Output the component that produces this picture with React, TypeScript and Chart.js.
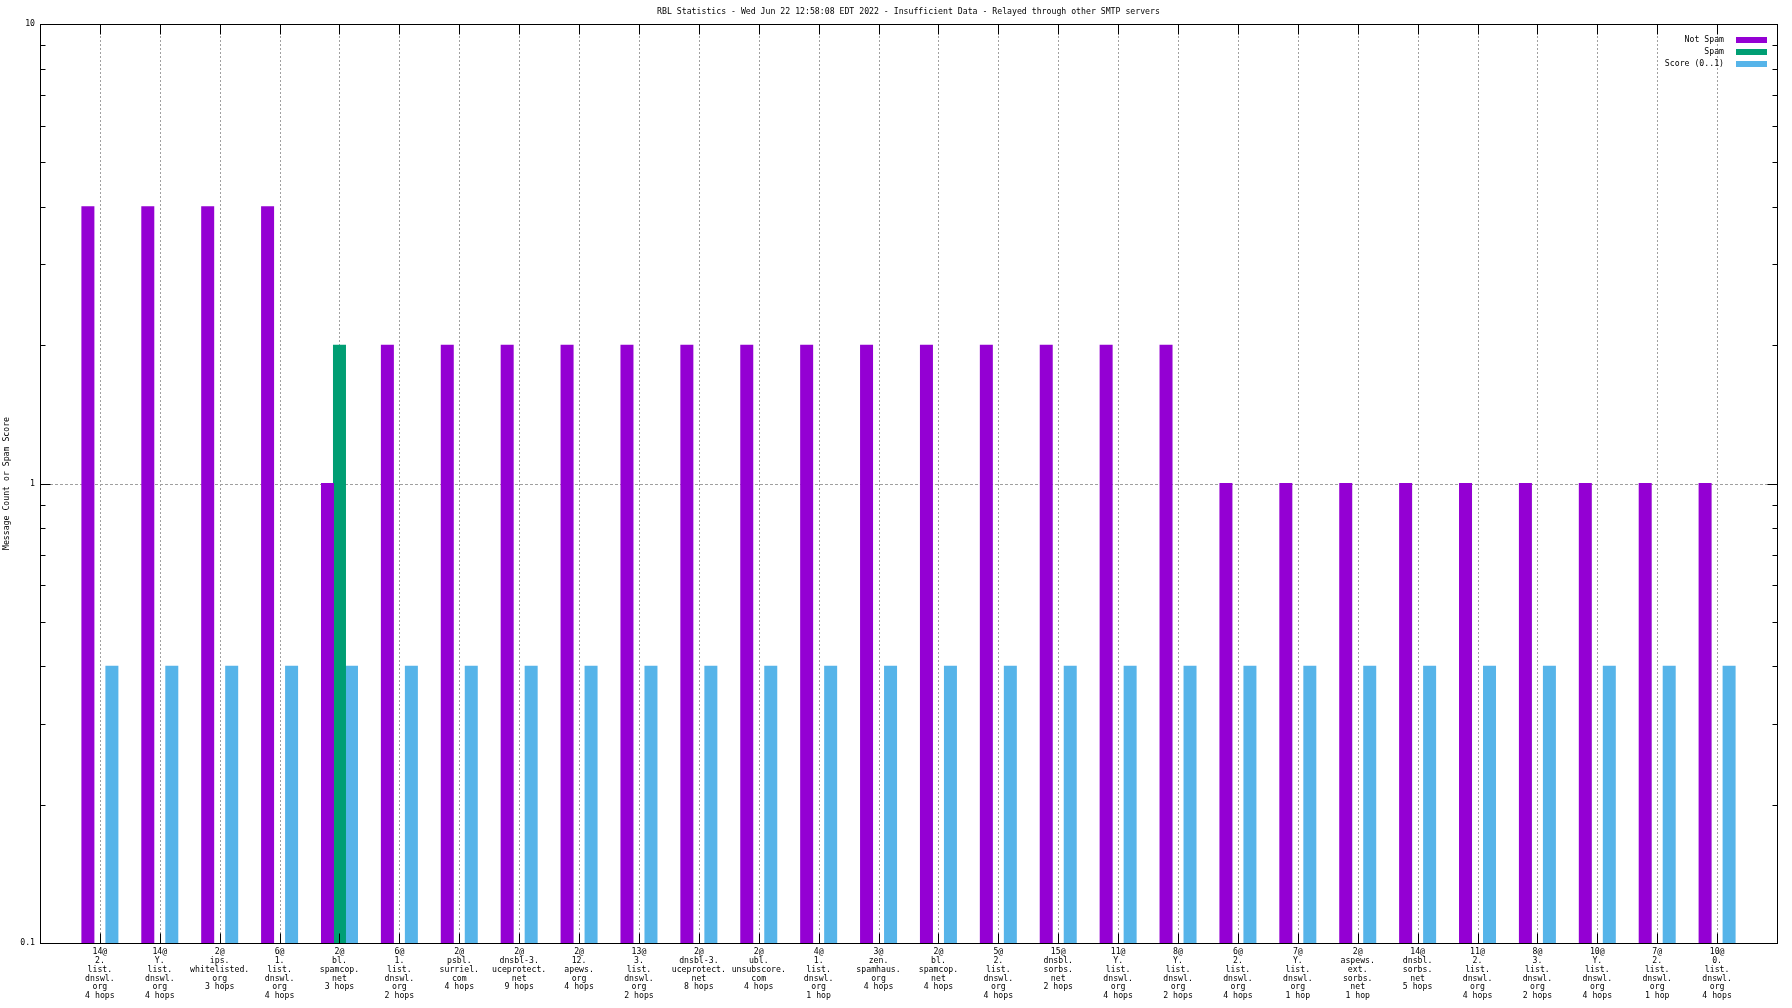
import React, { useEffect, useRef } from 'react';
import { Chart, registerables } from 'chart.js';

Chart.register(...registerables);

const TITLE = 'RBL Statistics - Wed Jun 22 12:58:08 EDT 2022 - Insufficient Data - Relayed through other SMTP servers';
const Y_TITLE = 'Message Count or Spam Score';

const CATEGORIES: string[][] = [
  ['14@', '2.', 'list.', 'dnswl.', 'org', '4 hops'],
  ['14@', 'Y.', 'list.', 'dnswl.', 'org', '4 hops'],
  ['2@', 'ips.', 'whitelisted.', 'org', '3 hops'],
  ['6@', '1.', 'list.', 'dnswl.', 'org', '4 hops'],
  ['2@', 'bl.', 'spamcop.', 'net', '3 hops'],
  ['6@', '1.', 'list.', 'dnswl.', 'org', '2 hops'],
  ['2@', 'psbl.', 'surriel.', 'com', '4 hops'],
  ['2@', 'dnsbl-3.', 'uceprotect.', 'net', '9 hops'],
  ['2@', '12.', 'apews.', 'org', '4 hops'],
  ['13@', '3.', 'list.', 'dnswl.', 'org', '2 hops'],
  ['2@', 'dnsbl-3.', 'uceprotect.', 'net', '8 hops'],
  ['2@', 'ubl.', 'unsubscore.', 'com', '4 hops'],
  ['4@', '1.', 'list.', 'dnswl.', 'org', '1 hop'],
  ['3@', 'zen.', 'spamhaus.', 'org', '4 hops'],
  ['2@', 'bl.', 'spamcop.', 'net', '4 hops'],
  ['5@', '2.', 'list.', 'dnswl.', 'org', '4 hops'],
  ['15@', 'dnsbl.', 'sorbs.', 'net', '2 hops'],
  ['11@', 'Y.', 'list.', 'dnswl.', 'org', '4 hops'],
  ['8@', 'Y.', 'list.', 'dnswl.', 'org', '2 hops'],
  ['6@', '2.', 'list.', 'dnswl.', 'org', '4 hops'],
  ['7@', 'Y.', 'list.', 'dnswl.', 'org', '1 hop'],
  ['2@', 'aspews.', 'ext.', 'sorbs.', 'net', '1 hop'],
  ['14@', 'dnsbl.', 'sorbs.', 'net', '5 hops'],
  ['11@', '2.', 'list.', 'dnswl.', 'org', '4 hops'],
  ['8@', '3.', 'list.', 'dnswl.', 'org', '2 hops'],
  ['10@', 'Y.', 'list.', 'dnswl.', 'org', '4 hops'],
  ['7@', '2.', 'list.', 'dnswl.', 'org', '1 hop'],
  ['10@', '0.', 'list.', 'dnswl.', 'org', '4 hops'],
];

const NOT_SPAM: (number | null)[] = [4, 4, 4, 4, 1, 2, 2, 2, 2, 2, 2, 2, 2, 2, 2, 2, 2, 2, 2, 1, 1, 1, 1, 1, 1, 1, 1, 1];
const SPAM: (number | null)[] = [null, null, null, null, 2, null, null, null, null, null, null, null, null, null, null, null, null, null, null, null, null, null, null, null, null, null, null, null];
const SCORE: (number | null)[] = [0.4, 0.4, 0.4, 0.4, 0.4, 0.4, 0.4, 0.4, 0.4, 0.4, 0.4, 0.4, 0.4, 0.4, 0.4, 0.4, 0.4, 0.4, 0.4, 0.4, 0.4, 0.4, 0.4, 0.4, 0.4, 0.4, 0.4, 0.4];

const SERIES_NAMES = ['Not Spam', 'Spam', 'Score (0..1)'];
const SERIES_COLORS = ['#9400d3', '#009e73', '#56b4e9'];

const Y_MAJOR = [0.1, 1, 10];
const Y_MINOR = [0.2, 0.3, 0.4, 0.5, 0.6, 0.7, 0.8, 0.9, 2, 3, 4, 5, 6, 7, 8, 9];
const Y_GRID = [1];

const FAMILY = '"DejaVu Sans Mono", "Liberation Mono", monospace';
const FSIZE = 8.2;
const CSS_FONT = `${FSIZE}px ${FAMILY}`;

const frame = {
  id: 'gnuframe',
  beforeDatasetsDraw(chart: any) {
    const { ctx, chartArea: a, scales } = chart;
    const x = scales.x;
    const y = scales.y;
    ctx.save();
    ctx.strokeStyle = '#a0a0a0';
    ctx.lineWidth = 1;
    ctx.setLineDash([2, 2]);
    for (let i = 1; i <= CATEGORIES.length; i++) {
      const px = Math.round(x.getPixelForValue(i)) + 0.5;
      ctx.beginPath();
      ctx.moveTo(px, a.top);
      ctx.lineTo(px, a.bottom);
      ctx.stroke();
    }
    ctx.setLineDash([3, 2]);
    for (const v of Y_GRID) {
      const py = Math.round(y.getPixelForValue(v)) + 0.5;
      ctx.beginPath();
      ctx.moveTo(a.left, py);
      ctx.lineTo(a.right, py);
      ctx.stroke();
    }
    ctx.restore();
  },
  afterDatasetsDraw(chart: any) {
    const { ctx, chartArea: a, scales } = chart;
    const x = scales.x;
    const y = scales.y;
    const L = Math.round(a.left) + 0.5;
    const R = Math.round(a.right) + 0.5;
    const T = Math.round(a.top) + 0.5;
    const B = Math.round(a.bottom) + 0.5;
    ctx.save();
    ctx.strokeStyle = '#000';
    ctx.lineWidth = 1;
    ctx.setLineDash([]);
    ctx.strokeRect(L, T, R - L, B - T);
    ctx.beginPath();
    for (let i = 1; i <= CATEGORIES.length; i++) {
      const px = Math.round(x.getPixelForValue(i)) + 0.5;
      ctx.moveTo(px, B);
      ctx.lineTo(px, B - 10);
      ctx.moveTo(px, T);
      ctx.lineTo(px, T + 10);
    }
    for (const v of Y_MAJOR) {
      const py = Math.round(y.getPixelForValue(v)) + 0.5;
      ctx.moveTo(L, py);
      ctx.lineTo(L + 10, py);
      ctx.moveTo(R, py);
      ctx.lineTo(R - 10, py);
    }
    for (const v of Y_MINOR) {
      const py = Math.round(y.getPixelForValue(v)) + 0.5;
      ctx.moveTo(L, py);
      ctx.lineTo(L + 5, py);
      ctx.moveTo(R, py);
      ctx.lineTo(R - 5, py);
    }
    ctx.stroke();

    // title
    ctx.font = CSS_FONT;
    ctx.fillStyle = '#000';
    ctx.textAlign = 'center';
    ctx.textBaseline = 'middle';
    ctx.fillText(TITLE, (a.left + a.right) / 2, 11.5);

    // legend
    ctx.textAlign = 'right';
    SERIES_NAMES.forEach((name, i) => {
      const yc = a.top + 16 + i * 12;
      ctx.fillStyle = '#000';
      ctx.fillText(name, a.right - 53, yc);
      ctx.fillStyle = SERIES_COLORS[i];
      ctx.fillRect(a.right - 41, yc - 3, 31, 6);
    });
    ctx.restore();
  },
};

export default function App() {
  const ref = useRef<HTMLCanvasElement | null>(null);

  useEffect(() => {
    if (!ref.current) return;
    const font = { family: FAMILY, size: FSIZE, lineHeight: 1.06 };
    const pad = (arr: (number | null)[]) => [null, ...arr, null];
    const chart = new Chart(ref.current, {
      type: 'bar',
      data: {
        labels: [[''], ...CATEGORIES, ['']] as any,
        datasets: [NOT_SPAM, SPAM, SCORE].map((d, i) => ({
          label: SERIES_NAMES[i],
          data: pad(d),
          backgroundColor: SERIES_COLORS[i],
          borderWidth: 0,
          barThickness: 12,
          inflateAmount: 0.5,
        })) as any,
      },
      options: {
        responsive: false,
        animation: false,
        events: [],
        layout: { padding: { top: 24, right: 15, left: 0, bottom: 0 } },
        plugins: {
          legend: { display: false },
          tooltip: { enabled: false },
          title: { display: false },
        },
        scales: {
          x: {
            type: 'category',
            offset: false,
            grid: { display: false, drawTicks: false },
            border: { display: false },
            ticks: {
              autoSkip: false,
              maxRotation: 0,
              minRotation: 0,
              padding: 5,
              color: '#000',
              font,
            },
            afterFit: (s: any) => {
              s.height = 65;
            },
          },
          y: {
            type: 'logarithmic',
            min: 0.1,
            max: 10,
            grid: { display: false, drawTicks: false },
            border: { display: false },
            afterBuildTicks: (s: any) => {
              s.ticks = Y_MAJOR.map((v) => ({ value: v }));
            },
            ticks: {
              callback: (v: any) => String(v),
              padding: 5,
              color: '#000',
              font,
            },
            title: {
              display: true,
              text: Y_TITLE,
              color: '#000',
              font,
              padding: { top: 3, bottom: 0 },
            },
            afterFit: (s: any) => {
              s.width = 40;
            },
          },
        },
      } as any,
      plugins: [frame],
    });
    return () => chart.destroy();
  }, []);

  return (
    <div style={{ position: 'fixed', left: 0, top: 0, width: 1792, height: 1008, background: '#fff' }}>
      <canvas ref={ref} width={1792} height={1008} style={{ display: 'block', width: 1792, height: 1008 }} />
    </div>
  );
}
